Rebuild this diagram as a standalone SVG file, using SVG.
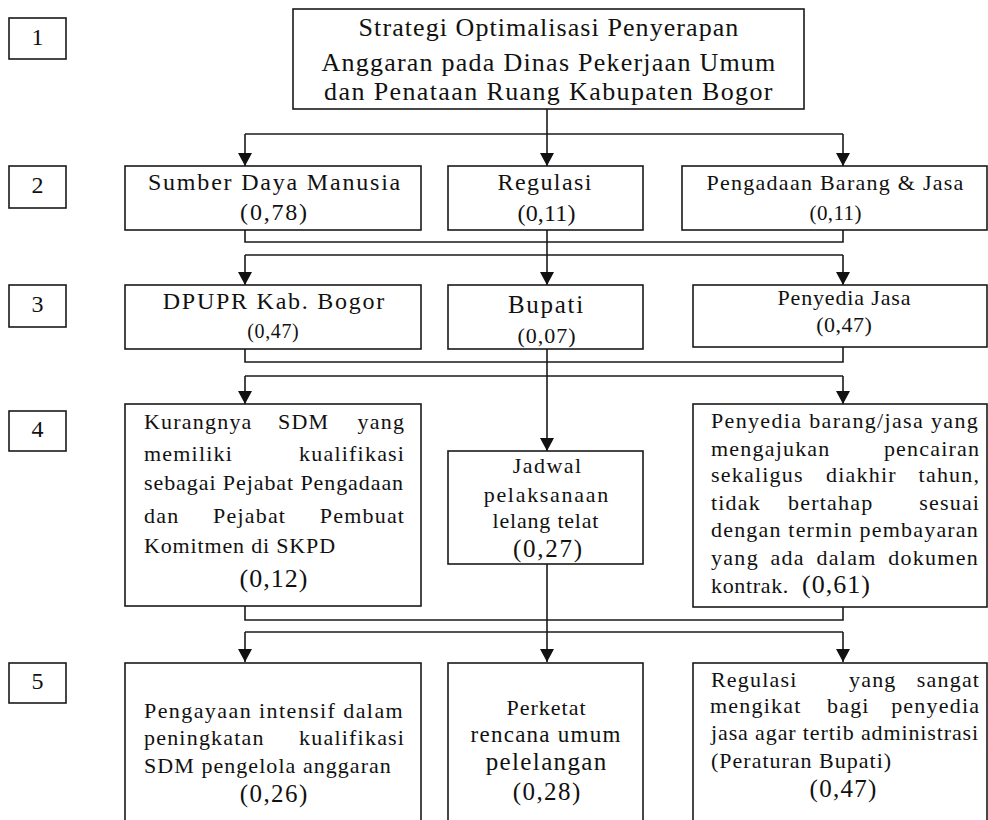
<svg xmlns="http://www.w3.org/2000/svg" width="988" height="820" viewBox="0 0 988 820">
<style>
.box{fill:#fff;stroke:#1a1a1a;stroke-width:1.6}
.ln{fill:none;stroke:#1a1a1a;stroke-width:1.6}
text{fill:#111;font-family:'Liberation Serif','Times New Roman',serif}
.c{text-anchor:middle}
.e{text-anchor:end}
.f26{font-size:26px}.f25{font-size:25px}.f24{font-size:24px}.f23{font-size:23px}.f22{font-size:22px}.f21{font-size:21px}.f20{font-size:20px}
.w{letter-spacing:1.2px}
</style>
<defs>
<marker id="ah" viewBox="0 0 13 14" refX="13" refY="7" markerWidth="13" markerHeight="14" markerUnits="userSpaceOnUse" orient="auto">
<path d="M0,0 L13,7 L0,14 Z" fill="#111"/>
</marker>
</defs>
<rect width="988" height="820" fill="#fff"/>

<g id="connectors">
<path class="ln" d="M547,109 V166" marker-end="url(#ah)"/>
<path class="ln" d="M245,134 H843"/>
<path class="ln" d="M245,134 V166" marker-end="url(#ah)"/>
<path class="ln" d="M843,134 V166" marker-end="url(#ah)"/>

<path class="ln" d="M245,230 V242 H843 V230"/>
<path class="ln" d="M547,230 V285" marker-end="url(#ah)"/>
<path class="ln" d="M245,255 H843"/>
<path class="ln" d="M245,255 V285" marker-end="url(#ah)"/>
<path class="ln" d="M843,255 V285" marker-end="url(#ah)"/>

<path class="ln" d="M245,349 V362 H843 V347"/>
<path class="ln" d="M547,349 V451" marker-end="url(#ah)"/>
<path class="ln" d="M245,376 H843"/>
<path class="ln" d="M245,376 V404" marker-end="url(#ah)"/>
<path class="ln" d="M843,376 V404" marker-end="url(#ah)"/>

<path class="ln" d="M245,606 V620 H843 V607"/>
<path class="ln" d="M547,564 V662" marker-end="url(#ah)"/>
<path class="ln" d="M245,632 H843"/>
<path class="ln" d="M245,632 V662" marker-end="url(#ah)"/>
<path class="ln" d="M843,632 V662" marker-end="url(#ah)"/>
</g>

<g id="lvl1"><rect class="box" x="9" y="18" width="57" height="41"/><text class="c f24" x="37.5" y="45">1</text></g>
<g id="lvl2"><rect class="box" x="9" y="166" width="57" height="42"/><text class="c f24" x="37.5" y="193">2</text></g>
<g id="lvl3"><rect class="box" x="9" y="285" width="57" height="42"/><text class="c f24" x="37.5" y="312">3</text></g>
<g id="lvl4"><rect class="box" x="9" y="411" width="57" height="40"/><text class="c f24" x="37.5" y="437">4</text></g>
<g id="lvl5"><rect class="box" x="9" y="663" width="57" height="40"/><text class="c f24" x="37.5" y="689">5</text></g>

<g id="title">
<rect class="box" x="293" y="9" width="511" height="100"/>
<text class="c f26" x="549" y="35.5" style="letter-spacing:1.07px">Strategi Optimalisasi Penyerapan</text>
<text class="c f26" x="549" y="70.5" style="letter-spacing:1.24px">Anggaran pada Dinas Pekerjaan Umum</text>
<text class="c f26" x="549" y="100" style="letter-spacing:1.38px">dan Penataan Ruang Kabupaten Bogor</text>
</g>

<g id="sdm">
<rect class="box" x="125" y="166" width="296" height="64"/>
<text class="c f24" x="275" y="190" style="letter-spacing:1.8px">Sumber Daya Manusia</text>
<text class="c f24" x="274.5" y="220" style="letter-spacing:1.8px">(0,78)</text>
</g>
<g id="regulasi">
<rect class="box" x="448" y="166" width="195" height="64"/>
<text class="c f24" x="545.2" y="190" style="letter-spacing:1.4px">Regulasi</text>
<text class="c f24" x="546.6" y="221" style="letter-spacing:0.2px">(0,11)</text>
</g>
<g id="pengadaan">
<rect class="box" x="682" y="166" width="305" height="64"/>
<text class="c f22" x="835.6" y="190" style="letter-spacing:1.26px">Pengadaan Barang &amp; Jasa</text>
<text class="c f21" x="835.7" y="220" style="letter-spacing:0.4px">(0,11)</text>
</g>

<g id="dpupr">
<rect class="box" x="125" y="285" width="296" height="64"/>
<text class="c f24" x="274.4" y="309" style="letter-spacing:1.75px">DPUPR Kab. Bogor</text>
<text class="c f20" x="273.3" y="338" style="letter-spacing:0.6px">(0,47)</text>
</g>
<g id="bupati">
<rect class="box" x="448" y="285" width="195" height="64"/>
<text class="c f25" x="546.4" y="313" style="letter-spacing:1.7px">Bupati</text>
<text class="c f22" x="547" y="343" style="letter-spacing:1px">(0,07)</text>
</g>
<g id="penyedia">
<rect class="box" x="693" y="285" width="294" height="62"/>
<text class="c f22" x="844.4" y="305" style="letter-spacing:0.86px">Penyedia Jasa</text>
<text class="c f22" x="844.3" y="332" style="letter-spacing:0.5px">(0,47)</text>
</g>

<g id="kurangnya">
<rect class="box" x="125" y="404" width="296" height="202"/>
<text class="f22 w" x="144" y="429">Kurangnya</text>
<text class="f22 w" x="278" y="429">SDM</text>
<text class="f22 w e" x="405.2" y="429">yang</text>
<text class="f22 w" x="144" y="461">memiliki</text>
<text class="f22 w e" x="405.2" y="461">kualifikasi</text>
<text class="f22" x="144" y="490" style="letter-spacing:0.92px">sebagai Pejabat Pengadaan</text>
<text class="f22 w" x="144" y="523">dan</text>
<text class="f22 w" x="213" y="523">Pejabat</text>
<text class="f22 w e" x="405.2" y="523">Pembuat</text>
<text class="f22" x="144" y="553" style="letter-spacing:0.84px">Komitmen di SKPD</text>
<text class="c f26" x="274" y="587" style="letter-spacing:1px">(0,12)</text>
</g>

<g id="jadwal">
<rect class="box" x="448" y="451" width="195" height="113"/>
<text class="c f22" x="547.7" y="473" style="letter-spacing:1.5px">Jadwal</text>
<text class="c f22" x="546.8" y="502" style="letter-spacing:1.7px">pelaksanaan</text>
<text class="c f22" x="545.9" y="528" style="letter-spacing:0.8px">lelang telat</text>
<text class="c f25" x="548.4" y="557" style="letter-spacing:1.77px">(0,27)</text>
</g>

<g id="penyedia-barang">
<rect class="box" x="693" y="404" width="294" height="203"/>
<text class="f22" x="711" y="428" style="letter-spacing:1.34px">Penyedia barang/jasa yang</text>
<text class="f22 w" x="711" y="456">mengajukan</text>
<text class="f22 w e" x="980.2" y="456">pencairan</text>
<text class="f22 w" x="711" y="482">sekaligus</text>
<text class="f22 w" x="826" y="482">diakhir</text>
<text class="f22 w e" x="980.2" y="482">tahun,</text>
<text class="f22 w" x="711" y="510">tidak</text>
<text class="f22 w" x="788" y="510">bertahap</text>
<text class="f22 w e" x="980.2" y="510">sesuai</text>
<text class="f22" x="711" y="537" style="letter-spacing:1.19px">dengan termin pembayaran</text>
<text class="f22" x="711" y="565" style="letter-spacing:1.3px;word-spacing:4.7px">yang ada dalam dokumen</text>
<text class="f22" x="711" y="593" style="letter-spacing:0.66px">kontrak.</text>
<text class="f26" x="802" y="593" style="letter-spacing:1px">(0,61)</text>
</g>

<g id="pengayaan">
<rect class="box" x="125" y="663" width="296" height="170"/>
<text class="f22" x="144" y="718" style="letter-spacing:1.42px">Pengayaan intensif dalam</text>
<text class="f22 w" x="144" y="745">peningkatan</text>
<text class="f22 w e" x="405.2" y="745">kualifikasi</text>
<text class="f22" x="144" y="773" style="letter-spacing:1.05px">SDM pengelola anggaran</text>
<text class="c f25" x="274.2" y="802" style="letter-spacing:1.43px">(0,26)</text>
</g>

<g id="perketat">
<rect class="box" x="448" y="663" width="195" height="170"/>
<text class="c f22" x="546.5" y="715" style="letter-spacing:1px">Perketat</text>
<text class="c f23" x="546.1" y="742" style="letter-spacing:1.25px">rencana umum</text>
<text class="c f25" x="546.7" y="770" style="letter-spacing:1.37px">pelelangan</text>
<text class="c f25" x="547.2" y="800" style="letter-spacing:1.43px">(0,28)</text>
</g>

<g id="regulasi-mengikat">
<rect class="box" x="693" y="663" width="294" height="170"/>
<text class="f22 w" x="711" y="687">Regulasi</text>
<text class="f22 w" x="849" y="687">yang</text>
<text class="f22 w e" x="980.2" y="687">sangat</text>
<text class="f22 w" x="710" y="713">mengikat</text>
<text class="f22 w" x="827" y="713">bagi</text>
<text class="f22 w e" x="980.2" y="713">penyedia</text>
<text class="f22" x="711" y="740" style="letter-spacing:0.88px">jasa agar tertib administrasi</text>
<text class="f22" x="711" y="768" style="letter-spacing:1px">(Peraturan Bupati)</text>
<text class="c f25" x="843.6" y="797" style="letter-spacing:1.27px">(0,47)</text>
</g>
</svg>
